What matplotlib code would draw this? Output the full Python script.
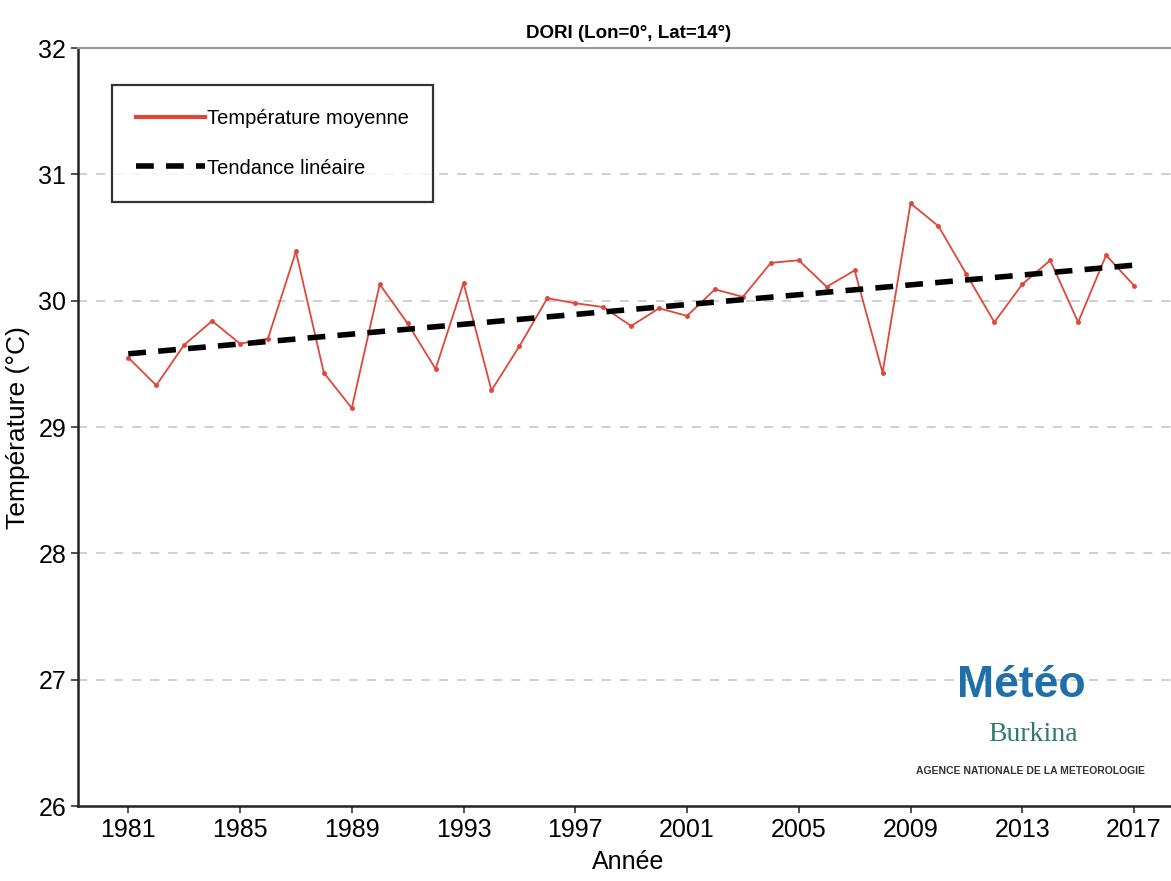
import numpy as np
import matplotlib.pyplot as plt

plt.rcParams['font.family'] = ['Liberation Sans', 'DejaVu Sans']

# Température moyenne annuelle à Dori
annees = np.arange(1981, 2018)
temperature = [29.55, 29.33, 29.65, 29.84, 29.66, 29.70, 30.39, 29.43, 29.15, 30.13,
               29.82, 29.46, 30.14, 29.29, 29.64, 30.02, 29.98, 29.95, 29.80, 29.94,
               29.88, 30.09, 30.03, 30.30, 30.32, 30.11, 30.24, 29.43, 30.77, 30.59,
               30.21, 29.83, 30.13, 30.32, 29.83, 30.36, 30.12]
ticks_x = [1981, 1985, 1989, 1993, 1997, 2001, 2005, 2009, 2013, 2017]
ticks_y = [26, 27, 28, 29, 30, 31, 32]

# tendance linéaire (moindres carrés)
p = np.polyfit(annees, temperature, 1)
tendance = np.polyval(p, annees)

fig = plt.figure(figsize=(11.71, 8.81), dpi=100)
ax = fig.add_axes([0.0666, 0.085, 0.94, 0.8605])

ax.plot(annees, temperature, color='#e0473a', lw=1.3, marker='o', ms=2.5,
        label='Température moyenne')
ax.plot(annees, tendance, color='black', lw=4, ls=(0, (3.2, 2.2)),
        label='Tendance linéaire')

ax.set_xlim(1979.2, 2018.6)
ax.set_ylim(26, 32)
ax.set_xticks(ticks_x)
ax.set_yticks(ticks_y)
ax.tick_params(labelsize=18, length=5, width=1.2, color='#333333')
for y in ticks_y[1:-1]:
    ax.axhline(y, color='#cccccc', lw=1.3, ls=(0, (5, 5)), zorder=0)

for s in ['left', 'bottom']:
    ax.spines[s].set_linewidth(1.8)
    ax.spines[s].set_color('#222222')
ax.spines['top'].set_color('#999999')
ax.spines['top'].set_linewidth(1.5)
ax.spines['right'].set_visible(False)

ax.set_title('DORI (Lon=0°, Lat=14°)', fontsize=13.5, fontweight='bold', pad=7)
ax.set_xlabel('Année', fontsize=18, labelpad=6)
ax.set_ylabel('Température (°C)', fontsize=19, labelpad=6)

leg = ax.legend(loc='upper left', bbox_to_anchor=(0.031, 0.951), fontsize=14.5,
                handlelength=3.4, handletextpad=0.1, frameon=True, fancybox=False,
                borderpad=1.2, labelspacing=1.5, borderaxespad=0)
leg.get_frame().set_edgecolor('black')
leg.get_frame().set_linewidth(1.6)
leg.get_lines()[0].set_marker('')
leg.get_lines()[0].set_linewidth(3)

# logo de l'agence (texte seul)
ax.text(0.857, 0.132, 'Météo', transform=ax.transAxes, fontsize=32,
        color='#1f6fa8', ha='center', va='bottom', fontweight='bold')
ax.text(0.868, 0.078, 'Burkina', transform=ax.transAxes, fontsize=20,
        color='#2e7a6e', ha='center', va='bottom', family='Liberation Serif')
ax.text(0.865, 0.04, 'AGENCE NATIONALE DE LA METEOROLOGIE', transform=ax.transAxes,
        fontsize=7.5, color='#333333', ha='center', va='bottom', fontweight='bold')

fig.savefig('out.png', dpi=100)
